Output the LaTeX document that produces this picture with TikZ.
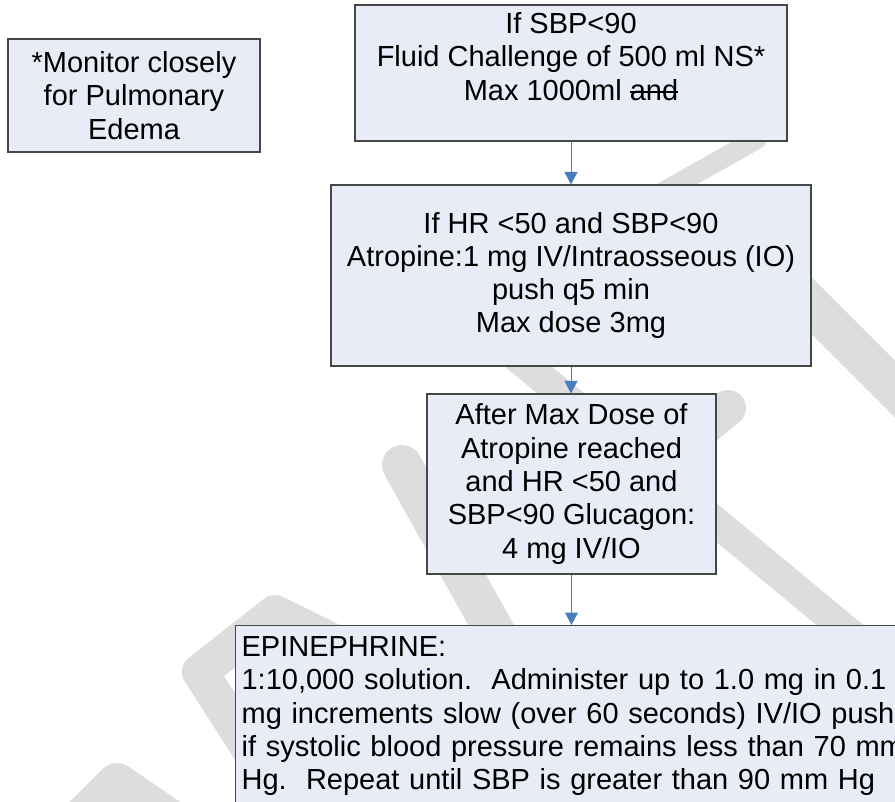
\documentclass[tikz,border=0pt]{standalone}
\usepackage{fontspec}
\setmainfont{Liberation Sans}
\usetikzlibrary{arrows.meta}
\definecolor{boxfill}{RGB}{231,236,246}
\definecolor{boxline}{RGB}{70,70,70}
\definecolor{arrowblue}{RGB}{74,126,187}
\definecolor{markgray}{RGB}{221,221,221}
\newcommand{\struckword}[1]{\setbox0\hbox{#1}\rlap{\rule[0.25em]{\wd0}{1.6pt}}\box0}
\begin{document}
\begin{tikzpicture}
[x=1pt,y=-1pt,
  boxdecorate/.style={shape=rectangle,draw=boxline,fill=boxfill,line width=1.2pt,%
    inner sep=0pt,align=center,font=\fontsize{29}{33.3}\selectfont},
  linedecorate/.style={draw=arrowblue,line width=1pt,-{Triangle[width=13pt,length=12.5pt]}},
  markdecorate/.style={draw=markgray,line width=36pt,line cap=round,line join=round}]
\useasboundingbox (0,0) rectangle (895,802);
%% watermark in the background
\draw[markdecorate,line width=20pt] (640,205) -- (757,139);
\draw[markdecorate,line width=40pt] (790,284) -- (940,434);
\draw[markdecorate,line width=30pt] (430,285) -- (870,650);
\draw[markdecorate] (728,408) -- (640,480);
\draw[markdecorate,line width=40pt] (402,465) -- (505,650);
\draw[markdecorate] (350,650) -- (275,613) -- (200,672) -- (250,750);
\draw[markdecorate,line width=40pt] (40,860) -- (117,783) -- (215,850);
%% boxes
\foreach \nodename/\x/\y/\w/\h/\content in {
  monitor/134/95.5/252/113/{*Monitor closely\\for Pulmonary\\Edema},
  fluid/571/73/432/136/{If SBP<90\\Fluid Challenge of 500 ml NS*\\Max 1000ml \struckword{and}\\\mbox{}},
  atropine/571/275.5/480/181/{If HR <50 and SBP<90\\Atropine:1 mg IV/Intraosseous (IO)\\push q5 min\\Max dose 3mg},
  glucagon/571.5/484/289/180/{After Max Dose of\\Atropine reached\\and HR <50 and\\SBP<90 Glucagon:\\4 mg IV/IO}}
{
  \node (\nodename) at (\x,\y) [boxdecorate,minimum width=\w pt,minimum height=\h pt] {\content};
}
\node (epinephrine) at (235,625) [boxdecorate,anchor=north west,align=left,%
  inner xsep=6pt,inner ysep=11pt,text width=708pt]
  {EPINEPHRINE:\\1:10,000 solution.\ \ Administer up to 1.0 mg in 0.1\\%
   mg increments slow (over 60 seconds) IV/IO push.\\%
   if systolic blood pressure remains less than 70 mm\\%
   Hg.\ \ Repeat until SBP is greater than 90 mm Hg\\\mbox{}};
%% connectors
\path
\foreach \startnode/\endnode in {fluid/atropine, atropine/glucagon, glucagon/epinephrine} {
  (\startnode.south) edge[linedecorate] (\startnode.south |- \endnode.north)
};
\end{tikzpicture}
\end{document}
